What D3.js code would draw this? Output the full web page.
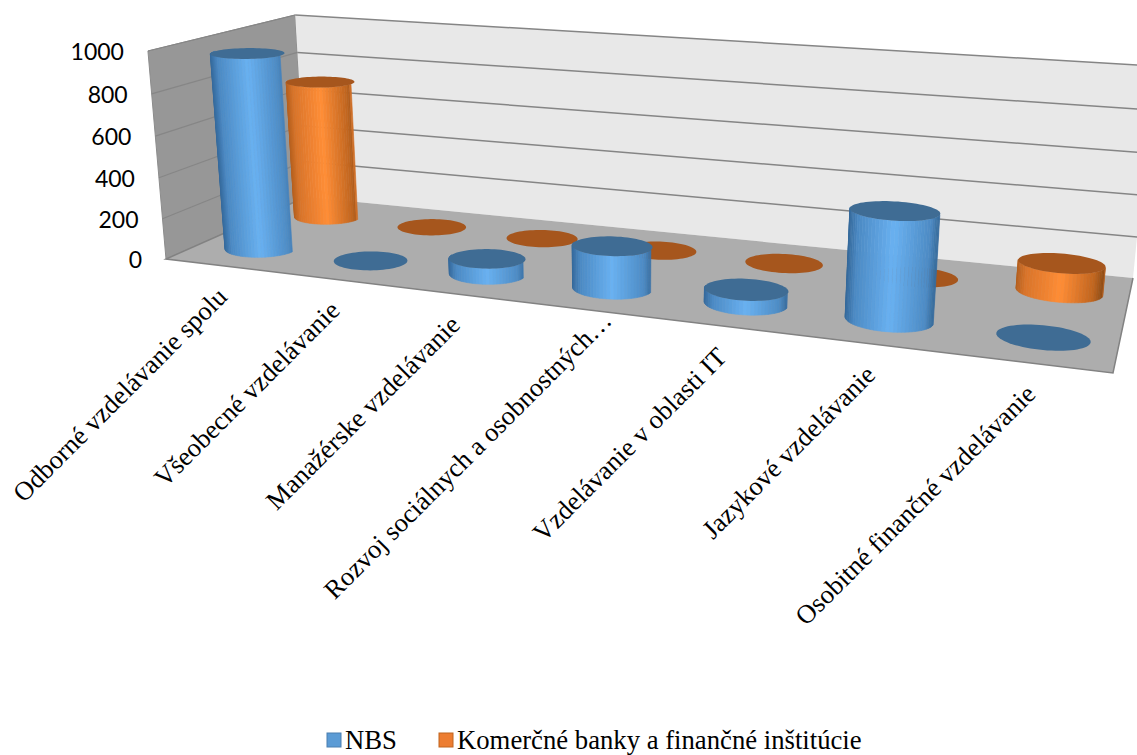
<!DOCTYPE html>
<html>
  <body style="margin:0;background:#fff">
    <script src="https://d3js.org/d3.v7.min.js"></script>
    <script type="text/javascript">
      const categories = [
        'Odborné vzdelávanie spolu',
        'Všeobecné vzdelávanie',
        'Manažérske vzdelávanie',
        'Rozvoj sociálnych a osobnostných…',
        'Vzdelávanie v oblasti IT',
        'Jazykové vzdelávanie',
        'Osobitné finančné vzdelávanie',
      ];
      const seriesNames = ['NBS', 'Komerčné banky a finančné inštitúcie'];
      const nbsValues = [960, 0, 75, 200, 65, 485, 0];
      const bankValues = [715, 0, 0, 0, 0, 0, 135];
      const yTicks = [0, 200, 400, 600, 800, 1000];

      const width = 1137;
      const height = 755;

      // floor corners as they land on the page, verticals run to a far vanishing point
      const floorQuad = [[166, 259], [1113, 373], [1133, 278], [306, 197]];
      const vanish = [619, 5477];
      const riseLeft = -208 / 5426;
      const riseFalloff = 0.048;

      // unit square -> quad, also hands back the homogeneous weight
      function homography(q) {
        const [[x0, y0], [x1, y1], [x2, y2], [x3, y3]] = q;
        const dx1 = x1 - x2, dx2 = x3 - x2, sx = x0 - x1 + x2 - x3;
        const dy1 = y1 - y2, dy2 = y3 - y2, sy = y0 - y1 + y2 - y3;
        const det = dx1 * dy2 - dx2 * dy1;
        const g = (sx * dy2 - dx2 * sy) / det;
        const h = (dx1 * sy - sx * dy1) / det;
        const a = x1 - x0 + g * x1, b = x3 - x0 + h * x3;
        const d = y1 - y0 + g * y1, e = y3 - y0 + h * y3;
        return (u, v) => [a * u + b * v + x0, d * u + e * v + y0, g * u + h * v + 1];
      }
      const floorAt = homography(floorQuad);

      const uScale = d3.scaleBand().domain(categories).range([0, 1]);
      const vScale = d3.scaleBand().domain(seriesNames).range([0, 1]);
      const wScale = d3.scaleLinear().domain([0, 1000]).range([0, 1]);

      const project = (u, v, w) => {
        const p = floorAt(u, v);
        const t = riseLeft * (1 - riseFalloff * u) * w;
        return [(p[0] + t * vanish[0]) / (p[2] + t), (p[1] + t * vanish[1]) / (p[2] + t)];
      };
      const poly = (pts) => 'M' + pts.map((p) => p[0].toFixed(2) + ',' + p[1].toFixed(2)).join('L') + 'Z';

      const svg = d3.select('body')
        .append('svg')
        .attr('width', width)
        .attr('height', height)
        .style('display', 'block');

      // walls and floor
      svg.append('path')
        .attr('d', poly([project(0, 0, 0), project(0, 1, 0), project(0, 1, 1), project(0, 0, 1)]))
        .attr('fill', '#979797')
        .attr('stroke', '#8c8c8c');
      svg.append('path')
        .attr('d', poly([project(0, 1, 0), project(1, 1, 0), project(1, 1, 1), project(0, 1, 1)]))
        .attr('fill', '#e8e8e8');
      svg.append('path')
        .attr('d', poly([project(0, 0, 0), project(1, 0, 0), project(1, 1, 0), project(0, 1, 0)]))
        .attr('fill', '#adadad');
      svg.append('path')
        .attr('d', d3.line()([project(0, 1, 0), project(0, 0, 0), project(1, 0, 0), project(1, 1, 0)]))
        .attr('fill', 'none')
        .attr('stroke', '#828282')
        .attr('stroke-width', 1.5);

      // gridlines
      yTicks.forEach((t) => {
        if (t > 0) {
          svg.append('path')
            .attr('d', d3.line()([project(0, 1, wScale(t)), project(1, 1, wScale(t))]))
            .attr('stroke', '#858585')
            .attr('stroke-width', 1.5);
          svg.append('path')
            .attr('d', d3.line()([project(0, 0, wScale(t)), project(0, 1, wScale(t))]))
            .attr('stroke', '#868686')
            .attr('stroke-width', 1.2);
        }
      });

      // y labels follow the front edge of the side wall
      svg.selectAll('.ytick')
        .data(yTicks)
        .enter()
        .append('text')
        .attr('class', 'ytick')
        .attr('x', (d) => project(0, 0, wScale(d))[0] - 24)
        .attr('y', (d) => project(0, 0, wScale(d))[1] + 9)
        .attr('text-anchor', 'end')
        .attr('font-family', 'Lato, sans-serif')
        .attr('font-size', 23)
        .attr('fill', '#000')
        .text((d) => d);

      // category labels, the truncated one sits further along in the original
      svg.selectAll('.xlabel')
        .data(categories)
        .enter()
        .append('text')
        .attr('class', 'xlabel')
        .attr('transform', (d) => {
          const p = project(uScale(d) + uScale.bandwidth() / 2, 0, 0);
          const cut = d.endsWith('…');
          return `translate(${p[0] + 9 + (cut ? 23 : 0)},${p[1] + 33 - (cut ? 20 : 0)}) rotate(-45)`;
        })
        .attr('text-anchor', 'end')
        .attr('font-family', '"Liberation Serif", serif')
        .attr('font-size', 26.5)
        .attr('fill', '#000')
        .text((d) => d);

      const shades = [
        { top: '#3f6c94', side: d3.scaleLinear().domain([0, 0.1, 0.5, 0.9, 1]).range(['#35699b', '#4c8ac4', '#69b1f1', '#4d8bc4', '#346797']) },
        { top: '#a6561d', side: d3.scaleLinear().domain([0, 0.1, 0.5, 0.88, 1]).range(['#b5601f', '#d9742a', '#ff8d36', '#c0651f', '#8a4a14']) },
      ];

      const radiusU = 0.042;
      const radiusV = 0.12;
      const nudgeU = 0.005;
      const angles = d3.range(0, 72).map((i) => (i / 72) * 2 * Math.PI);

      function drawCylinder(category, seriesIndex, value) {
        const cu = uScale(category) + uScale.bandwidth() / 2 + nudgeU;
        const cv = vScale(seriesNames[seriesIndex]) + vScale.bandwidth() / 2;
        const w = wScale(value);
        const at = (a, h) => project(cu + radiusU * Math.cos(a), cv + radiusV * Math.sin(a), h);
        const g = svg.append('g');

        if (value > 0) {
          const xs = angles.map((a) => at(a, w)[0]);
          const shade = d3.scaleLinear().domain(d3.extent(xs)).range([0, 1]);
          // front half only, thin strips shaded across the silhouette
          angles.forEach((a, i) => {
            const b = angles[(i + 1) % angles.length];
            if (Math.sin(a) < 0 || Math.sin(b) < 0) {
              const c = shades[seriesIndex].side(shade(at((a + b) / 2, w)[0]));
              g.append('path')
                .attr('d', poly([at(a, 0), at(b, 0), at(b, w), at(a, w)]))
                .attr('fill', c)
                .attr('stroke', c)
                .attr('stroke-width', 0.6);
            }
          });
        }
        g.append('path')
          .attr('d', poly(angles.map((a) => at(a, w))))
          .attr('fill', shades[seriesIndex].top);
      }

      // back row first
      categories.forEach((c, i) => drawCylinder(c, 1, bankValues[i]));
      categories.forEach((c, i) => drawCylinder(c, 0, nbsValues[i]));

      // legend
      const legendX = d3.scaleOrdinal().domain(seriesNames).range([327, 439]);
      const legendFill = d3.scaleOrdinal().domain(seriesNames).range(['#5b9bd5', '#ed7d31']);
      const legendStroke = d3.scaleOrdinal().domain(seriesNames).range(['#4a7fb0', '#c0651f']);
      const legend = svg.selectAll('.legend')
        .data(seriesNames)
        .enter()
        .append('g')
        .attr('class', 'legend')
        .attr('transform', (d) => `translate(${legendX(d)},733)`);
      legend.append('rect')
        .attr('width', 14)
        .attr('height', 14)
        .attr('fill', (d) => legendFill(d))
        .attr('stroke', (d) => legendStroke(d));
      legend.append('text')
        .attr('x', 18)
        .attr('y', 16)
        .attr('font-family', '"Liberation Serif", serif')
        .attr('font-size', 26.7)
        .attr('fill', '#000')
        .text((d) => d);
    </script>
  </body>
</html>
